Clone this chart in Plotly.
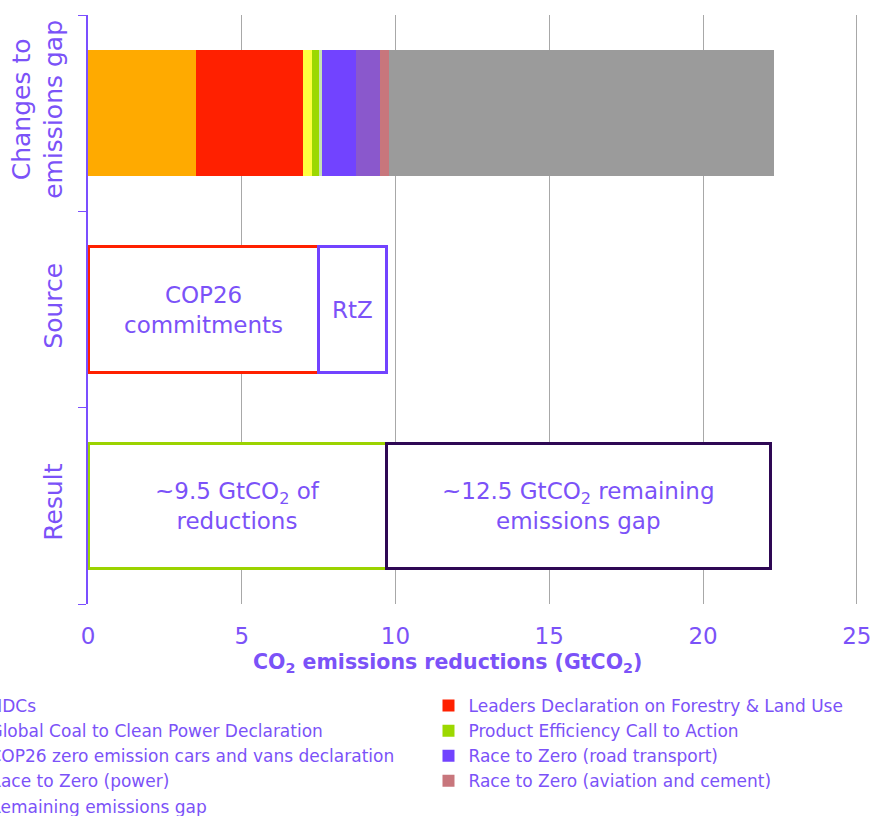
import plotly.graph_objects as go

# Categories (top to bottom)
rows = ["Changes to<br>emissions gap", "Source", "Result"]

# Breakdown of the changes to the emissions gap (GtCO2)
change_names = [
    "NDCs",
    "Leaders Declaration on Forestry & Land Use",
    "Global Coal to Clean Power Declaration",
    "Product Efficiency Call to Action",
    "COP26 zero emission cars and vans declaration",
    "Race to Zero (road transport)",
    "Race to Zero (power)",
    "Race to Zero (aviation and cement)",
    "Remaining emissions gap",
]
change_values = [3.5, 3.5, 0.3, 0.2, 0.1, 1.1, 0.8, 0.3, 12.5]
change_colors = ["#FFAA00", "#FF2000", "#FFFF40", "#9CD800", "#C5E0B4",
                 "#7243FF", "#8A58CC", "#C8767C", "#9B9B9B"]

# Grouped by source
source_labels = ["COP26<br>commitments", "RtZ"]
source_values = [7.5, 2.2]
source_colors = ["#FF2000", "#7243FF"]

# Resulting split
result_labels = ["~9.5 GtCO<sub>2</sub> of<br>reductions",
                 "~12.5 GtCO<sub>2</sub> remaining<br>emissions gap"]
result_values = [9.7, 12.5]
result_colors = ["#9BD300", "#2E0854"]

x_ticks = [0, 5, 10, 15, 20, 25]
x_title = "<b>CO<sub>2</sub> emissions reductions (GtCO<sub>2</sub>)</b>"

TEXT = "#7B52F8"
AXIS = "#7B4FFF"
FONT = "DejaVu Sans"

fig = go.Figure()

# Stacked breakdown; legend entries alternate between two columns
for i, (name, val, col) in enumerate(zip(change_names, change_values, change_colors)):
    fig.add_trace(go.Bar(
        y=[rows[0]], x=[val], name=name, orientation="h",
        marker=dict(color=col, line=dict(width=0)),
        legend="legend" if i % 2 == 0 else "legend2",
    ))

annotations = []


def outlined(labels, values, colors, row):
    start = 0.0
    for lab, val, col in zip(labels, values, colors):
        fig.add_trace(go.Bar(
            y=[row], x=[val], orientation="h", showlegend=False,
            marker=dict(color="white", line=dict(color=col, width=3)),
            hoverinfo="skip",
        ))
        annotations.append(dict(
            x=start + val / 2, y=row, xref="x", yref="y", text=lab,
            showarrow=False, font=dict(family=FONT, size=23, color=TEXT),
        ))
        start += val


outlined(source_labels, source_values, source_colors, rows[1])
outlined(result_labels, result_values, result_colors, rows[2])

annotations.append(dict(
    x=0.4675, y=-0.1, xref="paper", yref="paper", xanchor="center",
    yanchor="middle", text=x_title, showarrow=False,
    font=dict(family=FONT, size=20.5, color=TEXT),
))

legend_style = dict(
    orientation="v", yanchor="top", xanchor="left", y=-0.1426,
    traceorder="normal", bgcolor="rgba(0,0,0,0)", itemwidth=30,
    font=dict(family=FONT, size=17, color=TEXT),
)

fig.update_layout(
    width=872, height=816,
    margin=dict(l=88, r=14, t=15, b=212, autoexpand=False),
    barmode="stack", bargap=0.36,
    plot_bgcolor="white", paper_bgcolor="white",
    font=dict(family=FONT, color=TEXT),
    annotations=annotations,
    showlegend=True,
    legend=dict(x=-0.1799, **legend_style),
    legend2=dict(x=0.4422, **legend_style),
    xaxis=dict(
        range=[0, 25.04], tickvals=x_ticks, showgrid=True, gridcolor="#A8A8A8",
        gridwidth=1.2, zeroline=False, showline=False, ticks="",
        ticklabelstandoff=16, ticklabeloverflow="allow",
        tickfont=dict(family=FONT, size=23, color=TEXT),
    ),
    yaxis=dict(
        categoryorder="array", categoryarray=rows[::-1],
        showline=True, linecolor=AXIS, linewidth=1.5,
        ticks="outside", tickson="boundaries", ticklen=8, tickcolor=AXIS,
        tickangle=-90, showgrid=False, ticklabelstandoff=14,
        tickfont=dict(family=FONT, size=25, color=TEXT),
    ),
)

fig.write_html("out.html")
